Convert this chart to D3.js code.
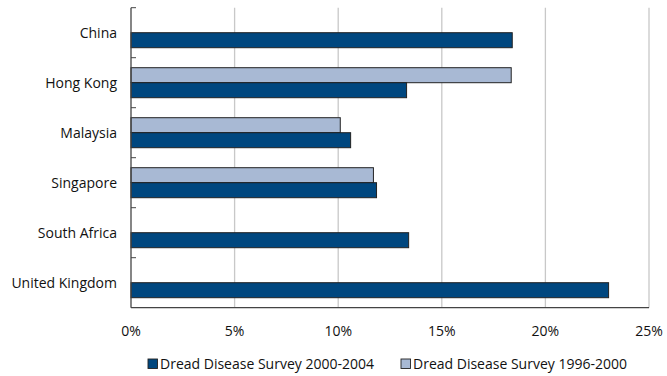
<!DOCTYPE html>
<html><head><meta charset="utf-8">
<script src="https://cdn.jsdelivr.net/npm/d3@7"></script>
<style>body{margin:0;background:#fff;} svg{display:block;} text{font-family:"Open Sans",sans-serif;fill:#111;}</style>
</head><body><svg id="c" width="667" height="376"></svg>
<script>
const categories = ["China","Hong Kong","Malaysia","Singapore","South Africa","United Kingdom"];
const survey2000_2004 = [18.4, 13.3, 10.6, 11.85, 13.4, 23.05];
const survey1996_2000 = [null, 18.35, 10.1, 11.7, null, null];
const xTicks = [0,5,10,15,20,25];
const seriesNames = ["Dread Disease Survey 2000-2004","Dread Disease Survey 1996-2000"];
const colors = ["#00477f","#a8b9d4"];

const svg = d3.select("#c");
const m = {left:131, right:18, top:7.7, bottom:68.3};
const W = 667, H = 376;
const x = d3.scaleLinear().domain([0,25]).range([m.left, W-m.right]);
const y = d3.scaleBand().domain(categories).range([m.top, H-m.bottom]);
const barH = 15;
const FS = 14;

// gridlines
svg.append("g").selectAll("line").data(xTicks.slice(1)).join("line")
  .attr("x1",d=>x(d)).attr("x2",d=>x(d)).attr("y1",m.top).attr("y2",H-m.bottom)
  .attr("stroke","#c8c8c8").attr("stroke-width",1.3);

// bars
const g = svg.append("g");
categories.forEach((c,i)=>{
  const cy = y(c)+y.bandwidth()/2;
  const v2 = survey1996_2000[i];
  if (v2!=null) g.append("rect").attr("x",x(0)).attr("y",cy-barH).attr("width",x(v2)-x(0)).attr("height",barH)
    .attr("fill",colors[1]).attr("stroke","#222").attr("stroke-width",1);
  const v1 = survey2000_2004[i];
  g.append("rect").attr("x",x(0)).attr("y",cy).attr("width",x(v1)-x(0)).attr("height",barH)
    .attr("fill",colors[0]).attr("stroke","#222").attr("stroke-width",1);
});

// y axis
const yAxisG = svg.append("g");
yAxisG.append("line").attr("x1",x(0)).attr("x2",x(0)).attr("y1",m.top).attr("y2",H-m.bottom).attr("stroke","#444").attr("stroke-width",1.3);
const bounds = categories.map(c=>y(c));
yAxisG.selectAll("line.t").data(bounds).join("line").attr("class","t")
  .attr("x1",x(0)).attr("x2",x(0)+5).attr("y1",d=>d).attr("y2",d=>d).attr("stroke","#444");
yAxisG.selectAll("text").data(categories).join("text")
  .attr("x",117).attr("y",c=>y(c)+y.bandwidth()/2 + 5).attr("text-anchor","end")
  .attr("font-size",FS).text(d=>d);

// x axis
svg.append("line").attr("x1",x(0)).attr("x2",x(25)).attr("y1",H-m.bottom).attr("y2",H-m.bottom).attr("stroke","#444").attr("stroke-width",1.3);
svg.append("g").selectAll("text").data(xTicks).join("text")
  .attr("x",d=>x(d)).attr("y",336).attr("text-anchor","middle")
  .attr("font-size",FS).text(d=>d+"%");

// legend
const leg = svg.append("g");
const legX = [148, 401];
seriesNames.forEach((n,i)=>{
  leg.append("rect").attr("x",legX[i]).attr("y",359).attr("width",9.5).attr("height",9.5)
    .attr("fill",colors[i]).attr("stroke","#222").attr("stroke-width",0.9);
  leg.append("text").attr("x",legX[i]+12).attr("y",369)
    .attr("font-size",FS).text(n);
});
</script></body></html>
